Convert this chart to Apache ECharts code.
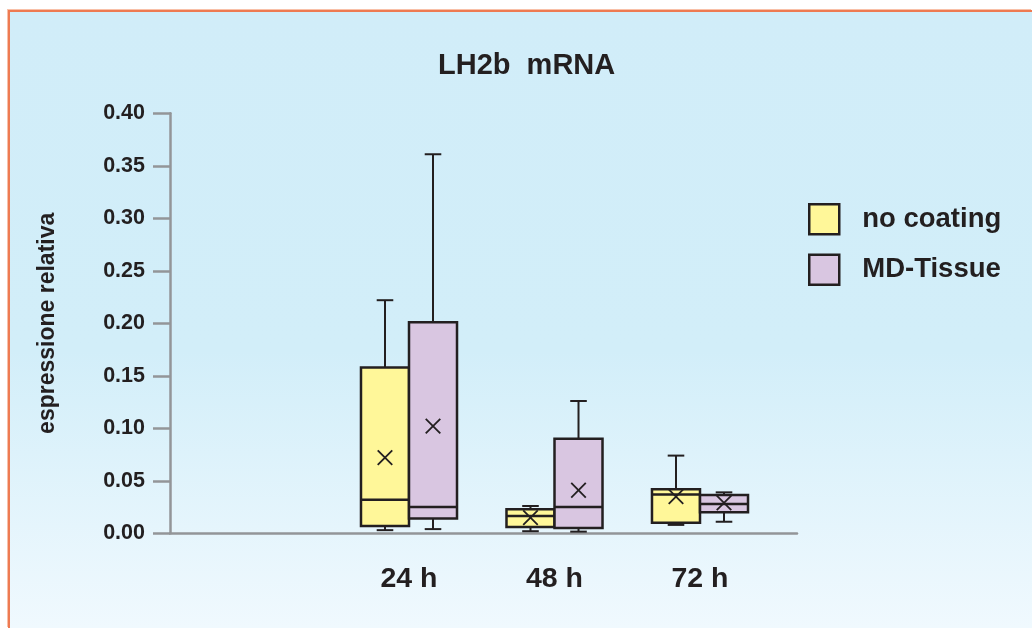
<!DOCTYPE html>
<html>
<head>
<meta charset="utf-8">
<script src="https://cdn.jsdelivr.net/npm/echarts@6/dist/echarts.min.js"></script>
<style>
  html, body { margin: 0; padding: 0; background: #ffffff; }
  #bg {
    position: absolute; left: 8px; top: 10px; width: 1024px; height: 618px;
    box-sizing: border-box;
    border-left: 2px solid #ee7a52; border-top: 2px solid #ee7a52;
    box-shadow: -1px -1px 0 #f8c0a8;
    background: linear-gradient(to bottom, #d1edf9 0%, #d2eef9 55%, #f0f9fe 100%);
  }
  #chart { position: absolute; left: 0; top: 0; width: 1032px; height: 628px; }
</style>
</head>
<body>
<div id="bg"></div>
<div id="chart"></div>
<script>
// ---- data ----
const timeLabels = ['24 h', '48 h', '72 h'];
const categories = [''].concat(timeLabels);
const yTicks = [0, 0.05, 0.10, 0.15, 0.20, 0.25, 0.30, 0.35, 0.40];
// [min, Q1, median, Q3, max] per time point
const noCoatingBox = [
  [0.003, 0.007, 0.032, 0.158, 0.222],
  [0.002, 0.006, 0.0165, 0.023, 0.026],
  [0.008, 0.010, 0.037, 0.042, 0.074]
];
const noCoatingMean = [0.072, 0.015, 0.035];
const mdTissueBox = [
  [0.004, 0.014, 0.025, 0.201, 0.361],
  [0.0016, 0.005, 0.025, 0.090, 0.126],
  [0.011, 0.020, 0.028, 0.0365, 0.039]
];
const mdTissueMean = [0.102, 0.041, 0.029];

const TXT = '#231f20';
const AXIS = '#939598';
const FONT = '"Liberation Sans", Arial, Helvetica, sans-serif';
const YELLOW = '#fff799';
const LILAC = '#d9c6e1';

function buildData(boxes, means) {
  return boxes.map(function (b, i) { return [timeLabels[i]].concat(b, [means[i]]); });
}

function makeRender(sign, fill) {
  return function (params, api) {
    const x = api.value(0);
    const band = api.size([1, 0])[0];
    const half = band * 0.165;
    const cx = api.coord([x, 0])[0] + sign * half;
    const y = function (d) { return api.coord([x, api.value(d)])[1]; };
    const yMin = y(1), yQ1 = y(2), yMed = y(3), yQ3 = y(4), yMax = y(5), yMean = y(6);
    const cap = band * 0.057;
    const xs = band * 0.05;
    const line = { stroke: TXT, lineWidth: 2 };
    return {
      type: 'group',
      children: [
        { type: 'line', shape: { x1: cx, y1: yMin, x2: cx, y2: yQ1 }, style: line },
        { type: 'line', shape: { x1: cx, y1: yQ3, x2: cx, y2: yMax }, style: line },
        { type: 'line', shape: { x1: cx - cap, y1: yMin, x2: cx + cap, y2: yMin }, style: line },
        { type: 'line', shape: { x1: cx - cap, y1: yMax, x2: cx + cap, y2: yMax }, style: line },
        { type: 'rect', shape: { x: cx - half, y: yQ3, width: half * 2, height: yQ1 - yQ3 },
          style: { fill: fill, stroke: TXT, lineWidth: 2.5 } },
        { type: 'line', shape: { x1: cx - half, y1: yMed, x2: cx + half, y2: yMed },
          style: { stroke: TXT, lineWidth: 2.5 } },
        { type: 'line', shape: { x1: cx - xs, y1: yMean - xs, x2: cx + xs, y2: yMean + xs },
          style: { stroke: TXT, lineWidth: 1.8 } },
        { type: 'line', shape: { x1: cx - xs, y1: yMean + xs, x2: cx + xs, y2: yMean - xs },
          style: { stroke: TXT, lineWidth: 1.8 } }
      ]
    };
  };
}

const chart = echarts.init(document.getElementById('chart'), null, { renderer: 'canvas' });
chart.setOption({
  backgroundColor: 'transparent',
  animation: false,
  title: {
    text: 'LH2b  mRNA', left: 438, top: 51, padding: 0,
    textStyle: { fontFamily: FONT, fontWeight: 'bold', fontSize: 29, color: TXT }
  },
  legend: {
    orient: 'vertical', left: 808, top: 203, padding: 0,
    itemWidth: 30, itemHeight: 30, itemGap: 18, icon: 'rect',
    textStyle: { fontFamily: FONT, fontWeight: 'bold', fontSize: 27.5, color: TXT, padding: [6, 0, 0, 18] },
    data: [
      { name: 'no coating', itemStyle: { color: YELLOW, borderColor: TXT, borderWidth: 2.5 } },
      { name: 'MD-Tissue', itemStyle: { color: LILAC, borderColor: TXT, borderWidth: 2.5 } }
    ]
  },
  grid: [
    { left: 170, right: 235, top: 113.3, bottom: 94.7 },
    { left: 190.75, width: 582, top: 113.3, bottom: 94.7 }
  ],
  xAxis: [
    { gridIndex: 0, type: 'value', min: 0, max: 1,
      axisLine: { show: true, lineStyle: { color: AXIS, width: 2.5 } },
      axisTick: { show: false }, axisLabel: { show: false }, splitLine: { show: false } },
    { gridIndex: 1, type: 'category', data: categories,
      axisLine: { show: false }, axisTick: { show: false }, splitLine: { show: false },
      axisLabel: { fontFamily: FONT, fontWeight: 'bold', fontSize: 28.5, color: TXT, margin: 31, interval: 0 } }
  ],
  yAxis: [
    { gridIndex: 0, type: 'value', min: yTicks[0], max: yTicks[yTicks.length - 1], interval: 0.05,
      name: 'espressione relativa', nameLocation: 'middle', nameGap: 111, nameRotate: 90,
      nameTextStyle: { fontFamily: FONT, fontWeight: 'bold', fontSize: 23, color: TXT },
      axisLine: { show: true, lineStyle: { color: AXIS, width: 2.5 } },
      axisTick: { show: true, inside: false, length: 17, lineStyle: { color: AXIS, width: 2.5 } },
      axisLabel: { fontFamily: FONT, fontWeight: 'bold', fontSize: 21.5, color: TXT, margin: 25,
        formatter: function (v) { return v.toFixed(2); } },
      splitLine: { show: false } },
    { gridIndex: 1, type: 'value', min: yTicks[0], max: yTicks[yTicks.length - 1], show: false }
  ],
  series: [
    { name: 'no coating', type: 'custom', xAxisIndex: 1, yAxisIndex: 1,
      itemStyle: { color: YELLOW, borderColor: TXT },
      renderItem: makeRender(-1, YELLOW), data: buildData(noCoatingBox, noCoatingMean),
      encode: { x: 0, y: [1, 2, 3, 4, 5] } },
    { name: 'MD-Tissue', type: 'custom', xAxisIndex: 1, yAxisIndex: 1,
      itemStyle: { color: LILAC, borderColor: TXT },
      renderItem: makeRender(1, LILAC), data: buildData(mdTissueBox, mdTissueMean),
      encode: { x: 0, y: [1, 2, 3, 4, 5] } }
  ]
});
</script>
</body>
</html>
